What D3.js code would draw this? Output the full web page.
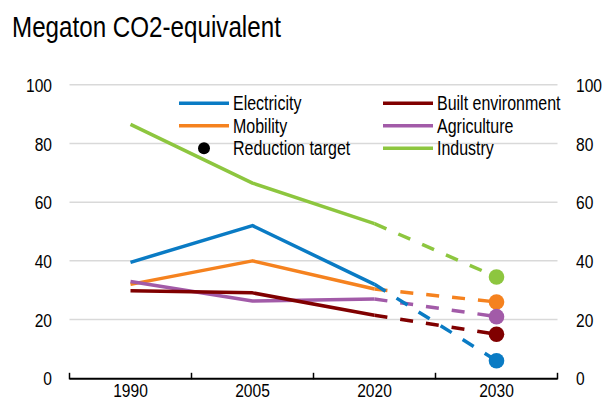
<!DOCTYPE html>
<html>
<head>
<meta charset="utf-8">
<script src="https://cdn.jsdelivr.net/npm/d3@7/dist/d3.min.js"></script>
<style>
  html, body { margin: 0; padding: 0; background: #fff; }
  svg { display: block; }
  text { font-family: 'Liberation Sans', Arial, sans-serif; fill: #000; }
</style>
</head>
<body>
<svg id="chart" width="603" height="401"></svg>
<script>
// Emissions by sector, megaton CO2-equivalent
const categories = ['1990', '2005', '2020', '2030'];
const historyYears = ['1990', '2005', '2020'];
const targetYear = '2030';

const electricity = [39.5, 52, 32];
const mobility = [32, 40, 30.4];
const builtEnvironment = [29.8, 29.1, 21.5];
const agriculture = [33, 26.3, 27];
const industry = [86.5, 66.5, 52.7];

// 2030 reduction targets per sector
const targets = { electricity: 6, mobility: 26, builtEnvironment: 15, agriculture: 21, industry: 34.5 };

const yTicks = [0, 20, 40, 60, 80, 100];

const series = [
  { key: 'mobility', name: 'Mobility', color: '#F5821F', values: mobility },
  { key: 'agriculture', name: 'Agriculture', color: '#A25BA8', values: agriculture },
  { key: 'builtEnvironment', name: 'Built environment', color: '#800000', values: builtEnvironment },
  { key: 'industry', name: 'Industry', color: '#8DC63F', values: industry },
  { key: 'electricity', name: 'Electricity', color: '#0A7BC4', values: electricity }
];

const svg = d3.select('#chart');
const plotLeft = 69.5, plotRight = 557.5, plotTop = 84.7, plotBottom = 378.3;
const NARROW = 0.82; // horizontal squeeze giving a narrow sans face

// Turn x/y placement of a text into a translate + horizontal squeeze
function narrow(sel) {
  sel.each(function () {
    const t = d3.select(this);
    const tx = +t.attr('x') || 0, ty = +t.attr('y') || 0;
    t.attr('x', 0).attr('y', 0)
      .attr('transform', `translate(${tx},${ty}) scale(${NARROW},1)`);
  });
}

const x = d3.scaleBand().domain(categories).range([plotLeft, plotRight]).padding(0);
const y = d3.scaleLinear().domain([0, 100]).range([plotBottom, plotTop]);
const cx = c => x(c) + x.bandwidth() / 2;

// Title
svg.append('text')
  .attr('x', 12).attr('y', 37)
  .style('font-size', '29.5px')
  .text('Megaton CO2-equivalent')
  .call(narrow);

// Horizontal gridlines
svg.append('g')
  .selectAll('line')
  .data(yTicks.filter(d => d > 0))
  .join('line')
  .attr('x1', plotLeft).attr('x2', plotRight)
  .attr('y1', d => y(d)).attr('y2', d => y(d))
  .attr('stroke', '#d9d9d9').attr('stroke-width', 1.5);

// Value axes on both sides
const leftAxis = svg.append('g')
  .attr('transform', `translate(${plotLeft},0)`)
  .call(d3.axisLeft(y).tickValues(yTicks).tickSize(0).tickPadding(17.5));
const rightAxis = svg.append('g')
  .attr('transform', `translate(${plotRight},0)`)
  .call(d3.axisRight(y).tickValues(yTicks).tickSize(0).tickPadding(18.5));
[leftAxis, rightAxis].forEach(g => {
  g.select('.domain').remove();
  g.attr('font-family', null).attr('font-size', null);
  g.selectAll('text').style('font-size', '19px').attr('dy', '0.35em').call(narrow);
});

// Category axis with boundary ticks
const bottomAxis = svg.append('g')
  .attr('transform', `translate(0,${plotBottom})`)
  .call(d3.axisBottom(x).tickSize(0).tickPadding(5));
bottomAxis.select('.domain').remove();
bottomAxis.attr('font-family', null).attr('font-size', null);
bottomAxis.selectAll('text').style('font-size', '19px').attr('dy', '0.71em').call(narrow);

const boundaries = categories.map(c => x(c)).concat([x(categories[categories.length - 1]) + x.bandwidth()]);
svg.append('line')
  .attr('x1', plotLeft).attr('x2', plotRight)
  .attr('y1', plotBottom + 0.5).attr('y2', plotBottom + 0.5)
  .attr('stroke', '#000').attr('stroke-width', 2);
svg.append('g')
  .selectAll('line')
  .data(boundaries)
  .join('line')
  .attr('x1', d => d).attr('x2', d => d)
  .attr('y1', plotBottom - 5.5).attr('y2', plotBottom + 1)
  .attr('stroke', '#000').attr('stroke-width', 1.5);

const line = d3.line().x(d => cx(d.year)).y(d => y(d.value));

const plot = svg.append('g');

// Projected path from the last observation to the 2030 target (dashed)
series.forEach(s => {
  const last = historyYears.length - 1;
  plot.append('path')
    .datum([{ year: historyYears[last], value: s.values[last] }, { year: targetYear, value: targets[s.key] }])
    .attr('d', line)
    .attr('fill', 'none')
    .attr('stroke', s.color)
    .attr('stroke-width', 3.5)
    .attr('stroke-dasharray', '13,13');
});

// Historical emissions (solid)
series.forEach(s => {
  plot.append('path')
    .datum(historyYears.map((yr, i) => ({ year: yr, value: s.values[i] })))
    .attr('d', line)
    .attr('fill', 'none')
    .attr('stroke', s.color)
    .attr('stroke-width', 3.5)
    .attr('stroke-linejoin', 'round');
});

// Reduction target markers
plot.append('g')
  .selectAll('circle')
  .data(series)
  .join('circle')
  .attr('cx', cx(targetYear))
  .attr('cy', s => y(targets[s.key]))
  .attr('r', 7.8)
  .attr('fill', s => s.color);

// Legend
const legendRows = [
  [{ name: 'Electricity', color: '#0A7BC4', type: 'line' }, { name: 'Built environment', color: '#800000', type: 'line' }],
  [{ name: 'Mobility', color: '#F5821F', type: 'line' }, { name: 'Agriculture', color: '#A25BA8', type: 'line' }],
  [{ name: 'Reduction target', color: '#000', type: 'dot' }, { name: 'Industry', color: '#8DC63F', type: 'line' }]
];
const legendCols = [179, 383];
const legendY0 = 103.3, legendStep = 22.5;
const legend = svg.append('g');
legendRows.forEach((row, r) => {
  row.forEach((item, c) => {
    const x0 = legendCols[c];
    const yy = legendY0 + r * legendStep;
    if (item.type === 'line') {
      legend.append('line')
        .attr('x1', x0).attr('x2', x0 + 50)
        .attr('y1', yy).attr('y2', yy)
        .attr('stroke', item.color).attr('stroke-width', 3.5);
    } else {
      legend.append('circle')
        .attr('cx', x0 + 25).attr('cy', yy).attr('r', 6)
        .attr('fill', item.color);
    }
    legend.append('text')
      .attr('x', x0 + 54).attr('y', yy)
      .attr('dy', '0.35em')
      .style('font-size', '19.5px')
      .text(item.name)
      .call(narrow);
  });
});
</script>
</body>
</html>
